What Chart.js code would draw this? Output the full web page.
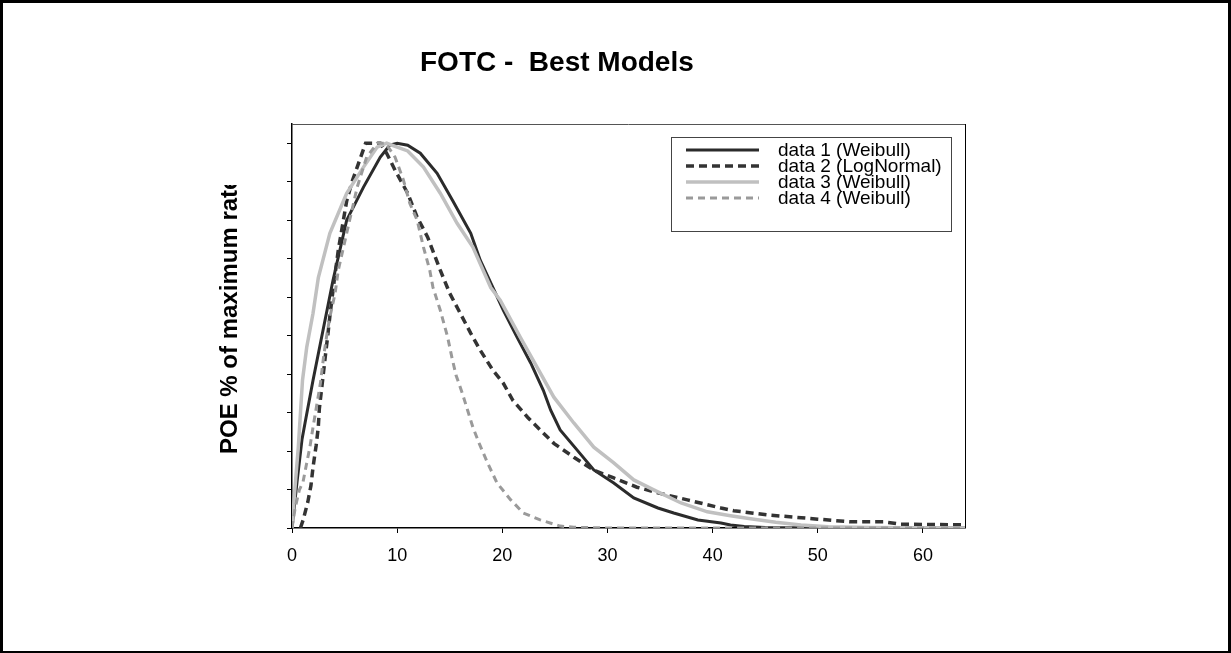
<!DOCTYPE html>
<html><head><meta charset="utf-8">
<script src="https://cdn.jsdelivr.net/npm/chart.js@4.4.0/dist/chart.umd.min.js"></script>
<style>html,body{margin:0;padding:0;background:#fff;} canvas{display:block;}</style>
</head><body><canvas id="c" width="1231" height="653"></canvas>
<script>
const chartTitle = 'FOTC -  Best Models';
const yAxisTitle = 'POE % of maximum rate';
const seriesLabels = ['data 1 (Weibull)', 'data 2 (LogNormal)', 'data 3 (Weibull)', 'data 4 (Weibull)'];

const data1X = [0, 0.5, 0.95, 1.24, 2.0, 2.95, 3.9, 5.2, 6.8, 8.4, 9.3, 10.0, 11, 12.2, 13.8, 15.3, 17, 17.9, 20.1, 21.4, 22.7, 23.9, 24.6, 25.5, 27.1, 28.7, 30.6, 32.5, 34.8, 36.3, 38.6, 40.8, 41.7, 43, 45, 50, 64];
const data1Y = [0, 12.5, 23, 27.3, 38.4, 51.4, 64.4, 80, 88.6, 96.4, 99.5, 100, 99.5, 97.4, 92.2, 85, 76.6, 69.6, 56.6, 49.6, 42.9, 35.8, 30.6, 25.5, 20.3, 15.1, 11.7, 7.8, 5.2, 3.9, 2.1, 1.3, 0.8, 0.4, 0.1, 0, 0];

const data2X = [0.8, 1.05, 1.5, 1.8, 2.0, 2.3, 2.5, 2.6, 2.8, 3.0, 3.2, 3.4, 3.6, 4.0, 4.4, 5.2, 5.7, 7.0, 8.4, 9.0, 9.8, 11, 11.9, 12.9, 14.1, 15.0, 17, 17.9, 19.1, 20.1, 21, 22.4, 23.6, 24.9, 26.8, 28.7, 30.6, 32.8, 35, 37.6, 40.8, 42, 45.2, 50, 53.1, 56.3, 57.9, 64];
const data2Y = [0, 2, 6.7, 11, 15.8, 21.5, 26.2, 31, 35.8, 40.5, 45.4, 50, 55, 64, 72.2, 85, 89.9, 100, 100, 97.4, 93, 87, 80.8, 75.6, 67, 61, 50.6, 46.2, 41, 37.6, 33.2, 28.8, 25.5, 22, 18.4, 15, 13, 10.6, 9, 7.3, 5.2, 4.5, 3.4, 2.3, 1.6, 1.6, 1.0, 0.8];

const data3X = [0, 0.3, 0.6, 1.0, 1.4, 2.0, 2.5, 3.6, 5.2, 6.8, 8.1, 9.0, 11, 12.5, 14.1, 15.7, 17.2, 18.9, 19.8, 21.7, 23.3, 24.9, 26.8, 28.7, 30.6, 32.5, 34.4, 37, 39.5, 41.7, 43.6, 46, 48.4, 51, 55, 64];
const data3Y = [0, 11, 21, 38.4, 47, 55.8, 65, 76.6, 87, 93.8, 99, 100, 98, 93.8, 87, 79.2, 73, 62.5, 59.2, 49.6, 41.8, 34, 27.3, 21, 16.9, 12.5, 9.9, 6.5, 4.2, 3.2, 2.4, 1.5, 0.8, 0.3, 0.1, 0];

const data4X = [0, 0.3, 0.7, 1.05, 1.4, 1.7, 2.0, 2.4, 2.7, 3.0, 3.3, 3.6, 4.1, 4.4, 5.2, 6.2, 7.1, 8.1, 8.9, 9.8, 10.6, 11.2, 11.9, 12.5, 13.1, 13.4, 14.1, 14.8, 15.2, 15.6, 16.2, 16.7, 17.2, 17.8, 18.6, 19.5, 20.8, 22, 23.6, 25.5, 26.8, 30, 64];
const data4Y = [0, 5.2, 9.9, 12, 16.9, 21, 26.2, 32.7, 37.6, 44.4, 50, 54.8, 61, 67, 76.6, 88.6, 96.4, 100, 100, 96.4, 90.4, 84.4, 80, 73, 67, 62.6, 56.6, 49.6, 44.4, 39.7, 35, 30.6, 26.2, 22, 16.9, 11.7, 7.3, 3.9, 2.1, 0.5, 0.2, 0, 0];

const xMin = 0, xMax = 64, xStep = 10;
const yMin = 0, yMax = 105, yStep = 10;

function pts(xs, ys) { return xs.map((x, i) => ({x: x, y: ys[i]})); }

const FONT = 'Arial, "Liberation Sans", sans-serif';

const decor = {
  id: 'decor',
  beforeDraw(chart) {
    const ctx = chart.ctx;
    ctx.save();
    ctx.fillStyle = '#fff';
    ctx.fillRect(0, 0, chart.width, chart.height);
    ctx.restore();
  },
  afterDraw(chart) {
    const ctx = chart.ctx;
    const a = chart.chartArea;
    ctx.save();
    // outer frame
    ctx.fillStyle = '#000';
    ctx.fillRect(0, 0, chart.width, 3);
    ctx.fillRect(0, 0, 3, chart.height);
    ctx.fillRect(chart.width - 3, 0, 3, chart.height);
    ctx.fillRect(0, chart.height - 2, chart.width, 2);
    // plot frame top/right
    ctx.lineWidth = 1;
    ctx.strokeStyle = '#555';
    ctx.beginPath();
    ctx.moveTo(a.left, a.top + 0.5);
    ctx.lineTo(a.right, a.top + 0.5);
    ctx.stroke();
    ctx.strokeStyle = '#000';
    ctx.beginPath();
    ctx.moveTo(a.right + 0.5, a.top);
    ctx.lineTo(a.right + 0.5, a.bottom);
    ctx.stroke();
    // title
    ctx.fillStyle = '#000';
    ctx.font = 'bold 28px ' + FONT;
    ctx.textAlign = 'left';
    ctx.textBaseline = 'alphabetic';
    ctx.fillText(chartTitle, 420, 71);
    // y axis title (clipped at top like the original)
    ctx.save();
    ctx.beginPath();
    ctx.rect(0, 185, 290, chart.height - 185);
    ctx.clip();
    ctx.translate(237, 454);
    ctx.rotate(-Math.PI / 2);
    ctx.font = 'bold 24px ' + FONT;
    ctx.textAlign = 'left';
    ctx.textBaseline = 'alphabetic';
    ctx.fillText(yAxisTitle, 0, 0);
    ctx.restore();
    // legend
    const lx = 671, ly = 137, lw = 280, lh = 94;
    ctx.fillStyle = '#fff';
    ctx.fillRect(lx, ly, lw, lh);
    ctx.strokeStyle = '#444';
    ctx.lineWidth = 1;
    ctx.strokeRect(lx + 0.5, ly + 0.5, lw, lh);
    ctx.font = '19px ' + FONT;
    ctx.textBaseline = 'middle';
    chart.data.datasets.forEach((ds, i) => {
      const y = 150 + i * 16;
      ctx.save();
      ctx.strokeStyle = ds.borderColor;
      ctx.lineWidth = ds.borderWidth;
      ctx.setLineDash(ds.borderDash || []);
      ctx.beginPath();
      ctx.moveTo(686, y);
      ctx.lineTo(759, y);
      ctx.stroke();
      ctx.restore();
      ctx.fillStyle = '#000';
      ctx.fillText(ds.label, 778, y + 1);
    });
    ctx.restore();
  }
};

new Chart(document.getElementById('c'), {
  type: 'line',
  data: {
    datasets: [
      {label: seriesLabels[0], data: pts(data1X, data1Y), borderColor: '#2b2b2b', borderWidth: 3, order: 4},
      {label: seriesLabels[1], data: pts(data2X, data2Y), borderColor: '#333333', borderWidth: 3.5, borderDash: [8, 5], order: 3},
      {label: seriesLabels[2], data: pts(data3X, data3Y), borderColor: '#c0c0c0', borderWidth: 3.5, order: 2},
      {label: seriesLabels[3], data: pts(data4X, data4Y), borderColor: '#9a9a9a', borderWidth: 3, borderDash: [7, 5], order: 1}
    ]
  },
  options: {
    responsive: false,
    animation: false,
    devicePixelRatio: 1,
    elements: {point: {radius: 0}, line: {tension: 0, fill: false}},
    layout: {padding: {left: 287, right: 266, top: 124, bottom: 75}},
    plugins: {legend: {display: false}, title: {display: false}, tooltip: {enabled: false}},
    scales: {
      x: {
        type: 'linear', position: 'bottom', min: xMin, max: xMax,
        ticks: {stepSize: xStep, includeBounds: false, color: '#000', font: {family: FONT, size: 18}, padding: 12, maxRotation: 0, autoSkip: false},
        grid: {drawOnChartArea: false, drawTicks: true, tickLength: 5, color: '#000', lineWidth: 1},
        border: {display: true, color: '#000', width: 1.5},
        afterFit: s => { s.height = 50; }
      },
      y: {
        type: 'linear', position: 'left', min: yMin, max: yMax,
        ticks: {stepSize: yStep, includeBounds: false, display: false},
        grid: {drawOnChartArea: false, drawTicks: true, tickLength: 5, color: '#000', lineWidth: 1},
        border: {display: true, color: '#000', width: 1.5},
        afterFit: s => { s.width = 5; }
      }
    }
  },
  plugins: [decor]
});
</script>
</body></html>
